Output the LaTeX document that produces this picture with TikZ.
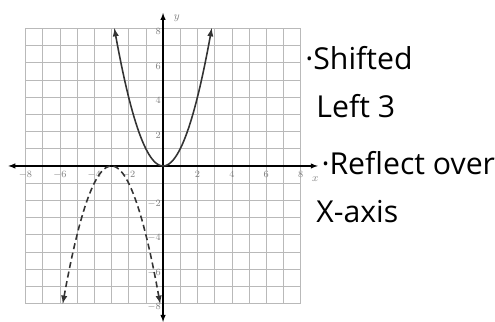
\documentclass[tikz,border=0pt]{standalone}
\usepackage{fontspec}
\newfontfamily\handfont{Open Sans}
\begin{document}
\begin{tikzpicture}[x=0.5cm, y=0.5cm,
    gridline/.style={gray!55, line width=0.5pt},
    axis/.style={latex-latex, line width=1pt},
    curve/.style={-latex, line width=1.3pt, black!80},
    ticklabel/.style={font=\footnotesize, text=gray, inner sep=1pt},
    note/.style={font=\handfont\fontsize{25}{28}\selectfont, anchor=base west, inner sep=0pt}
]
\useasboundingbox (-9.48,-9.07) rectangle (19.30,9.65);

\draw[gridline, step=0.5cm] (-8,-8) grid (8,8);
\draw[axis] (-9,0) -- (9,0);
\draw[axis] (0,-9.07) -- (0,8.9);
\node[font=\small, text=gray, inner sep=1pt] (xlab) at (8.85,-0.75) {$x$};
\node[font=\small, text=gray, inner sep=1pt] (ylab) at (0.8,8.6) {$y$};

% tick labels
\foreach \i in {-8,-6,-4,-2,2,4,6,8} {
  \node[ticklabel, anchor=north] (xt\i) at (\i,-0.2) {$\i$};
  \node[ticklabel, anchor=east] (yt\i) at (-0.05,\i-0.2) {$\i$};
}

% y = x^2 and its shifted reflection
\draw[curve, latex-latex] plot[domain=-2.83:2.83, samples=60] (\x,{\x*\x});
\draw[curve, latex-latex, dashed, dash pattern=on 5pt off 3pt] plot[domain=-5.83:-0.17, samples=60] (\x,{-(\x+3)*(\x+3)});

\node[note] (shift) at (8.26,5.58) {·Shifted};
\node[note] (left) at (8.9,2.79) {Left 3};
\node[note] (refl) at (9.2,-0.52) {·Reflect over};
\node[note] (xaxis) at (8.9,-3.26) {X-axis};

\end{tikzpicture}
\end{document}
